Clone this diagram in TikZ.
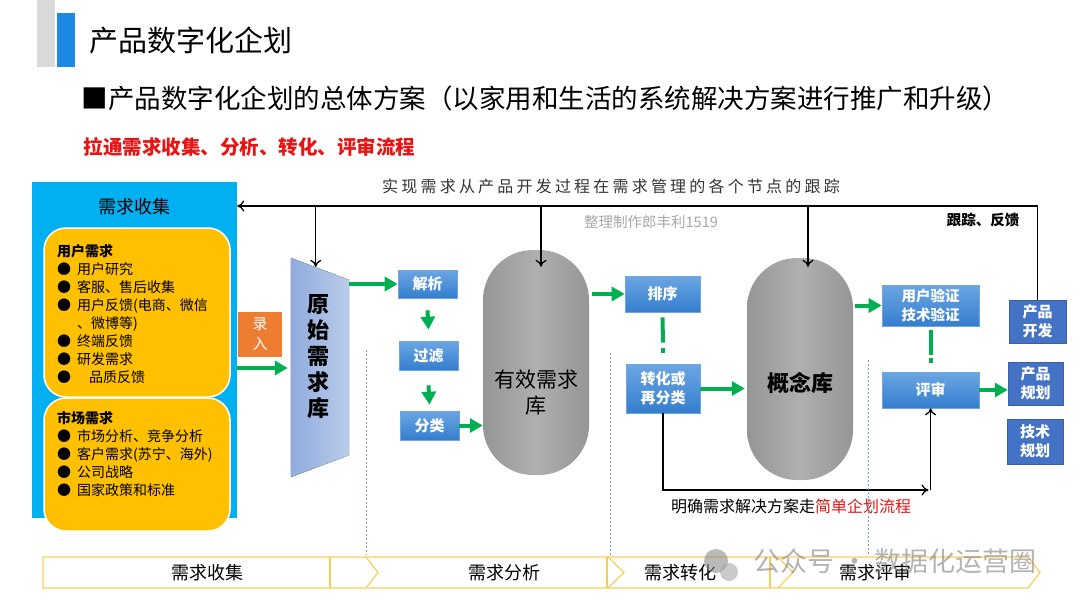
\documentclass[tikz,border=0pt]{standalone}
\usepackage{fontspec}
\setmainfont{Noto Sans CJK SC}
\usetikzlibrary{arrows.meta, calc, positioning, shapes}
\definecolor{titlegrey}{RGB}{217,217,217}
\definecolor{titleblue}{RGB}{30,136,229}
\definecolor{titlered}{RGB}{230,20,20}
\definecolor{collectblue}{RGB}{0,176,240}
\definecolor{needyellow}{RGB}{255,192,0}
\definecolor{inputorange}{RGB}{237,125,49}
\definecolor{flowgreen}{RGB}{0,176,80}
\definecolor{boxtop}{RGB}{108,166,226}
\definecolor{boxbot}{RGB}{52,126,206}
\definecolor{rightblue}{RGB}{68,114,196}
\definecolor{rawleft}{RGB}{143,170,220}
\definecolor{rawright}{RGB}{186,204,234}
\definecolor{capdark}{RGB}{150,150,150}
\definecolor{caplight}{RGB}{175,175,175}
\definecolor{sepblue}{RGB}{127,156,192}
\definecolor{bandyellow}{RGB}{245,207,90}

\begin{document}
\begin{tikzpicture}[x=1pt, y=-1pt,
    stepbox/.style={top color=boxtop, bottom color=boxbot, draw=boxbot!70!white, line width=0.6pt,
        text=white, font=\fontsize{15}{19}\selectfont\bfseries, align=center, inner sep=0pt},
    planbox/.style={fill=rightblue, draw=rightblue!85!black, line width=0.5pt, text=white,
        font=\fontsize{15}{19}\selectfont\bfseries, align=center, inner sep=0pt},
    needbox/.style={fill=needyellow, draw=white, line width=1.5pt, rounded corners=22pt,
        minimum width=186pt, inner sep=0pt},
    needtext/.style={anchor=north west, align=left, inner sep=0pt, font=\fontsize{14}{18}\selectfont},
    store/.style={left color=capdark, right color=capdark, middle color=caplight,
        rounded corners=50pt, minimum width=106pt, inner sep=0pt},
    go/.style={draw=flowgreen, line width=4pt, -{Triangle[length=13pt, width=14pt]}},
    bang/.style={draw=flowgreen, line width=4pt},
    track/.style={draw=black, line width=1.3pt, -{To[length=7pt, width=11pt]}},
    stagesep/.style={draw=sepblue, line width=0.7pt, dash pattern=on 2pt off 2pt},
    stage/.style={draw=bandyellow, line width=1.2pt},
    stagename/.style={font=\fontsize{18}{20}\selectfont},
  ]
  \useasboundingbox (0,0) rectangle (1080,608);

  % heading
  \fill[titlegrey] (37,0) rectangle (55,67);
  \fill[titleblue] (57,13) rectangle (75,67);
  \node[anchor=west, font=\fontsize{29}{32}\selectfont] (title) at (86,40) {产品数字化企划};
  \node[anchor=west, font=\fontsize{26.5}{30}\selectfont] (plan) at (78,98)
    {■产品数字化企划的总体方案（以家用和生活的系统解决方案进行推广和升级）};
  \node[anchor=west, text=titlered, font=\fontsize{19.5}{22}\selectfont\bfseries] (scope) at (80,147)
    {拉通需求收集、分析、转化、评审流程};
  \node[font=\fontsize{16}{18}\selectfont\addfontfeatures{LetterSpace=20}, text=black!80] (trackline) at (611,186)
    {实现需求从产品开发过程在需求管理的各个节点的跟踪};
  \node[text=black!35, font=\fontsize{14.5}{16}\selectfont] (maker) at (651,222) {整理制作郎丰利1519};
  \node[font=\fontsize{14.5}{16}\selectfont\bfseries] (tracknote) at (983,220) {跟踪、反馈};

  % collection
  \node[fill=collectblue, minimum width=205pt, minimum height=336pt, inner sep=0pt] (collect) at (134.5,350) {};
  \node[below=13pt of collect.north, font=\fontsize{18}{20}\selectfont] (collectname) {需求收集};
  \node[needbox, minimum height=169pt] (user) at (137,312.5) {};
  \node[needtext] (usertext) at (57,244) {\textbf{用户需求}\\
    ●\hspace{6pt}用户研究\\
    ●\hspace{6pt}客服、售后收集\\
    ●\hspace{6pt}用户反馈(电商、微信\\
    \phantom{●}\hspace{6pt}、微博等)\\
    ●\hspace{6pt}终端反馈\\
    ●\hspace{6pt}研发需求\\
    ●\hspace{18pt}品质反馈};
  \node[needbox, minimum height=133pt] (market) at (137,464.5) {};
  \node[needtext] (markettext) at (57,411) {\textbf{市场需求}\\
    ●\hspace{6pt}市场分析、竞争分析\\
    ●\hspace{6pt}客户需求(苏宁、海外)\\
    ●\hspace{6pt}公司战略\\
    ●\hspace{6pt}国家政策和标准};
  \node[fill=inputorange, minimum width=44pt, minimum height=45pt, text=white, inner sep=0pt,
    font=\fontsize{15}{20}\selectfont, align=center] (input) at (260,334.5) {录\\入};

  % raw pool
  \node[minimum width=58pt, minimum height=219pt, inner sep=0pt] (raw) at (320,367.5) {};
  \fill[left color=rawleft, right color=rawright] (raw.north west) -- ($(raw.north east)+(0,22)$)
    -- ($(raw.south east)+(0,-22)$) -- (raw.south west) -- cycle;
  \node[font=\fontsize{22}{26}\selectfont\bfseries, align=center] (rawname) at (318,357) {原\\始\\需\\求\\库};
  \coordinate (rawtop) at ($(raw.north west)+(25,9)$);
  \coordinate (feed) at ($(collect.east)+(0,18)$);

  % analysis
  \node[stepbox, minimum width=59pt, minimum height=28pt] (jiexi) at (427.5,284) {解析};
  \node[stepbox, minimum width=59pt, minimum height=29pt] (guolv) at (428.5,355.5) {过滤};
  \node[stepbox, minimum width=59pt, minimum height=29pt] (fenlei) at (429.5,425.5) {分类};
  \node[store, minimum height=225pt] (youxiao) at (536,362.5) {};
  \node[font=\fontsize{21}{26}\selectfont, align=center] (youxiaoname) at (536,393) {有效需求\\库};
  \coordinate (youxiaotop) at ($(youxiao.north)+(5,17)$);

  % conversion
  \node[stepbox, minimum width=75pt, minimum height=36pt] (paixu) at (662.5,294) {排序};
  \node[stepbox, minimum width=74pt, minimum height=49pt] (zhuanhua) at (663,388.5) {转化或\\再分类};
  \node[store, minimum height=222pt] (gainian) at (800,369) {};
  \node[font=\fontsize{22}{26}\selectfont\bfseries] (gainianname) at (800,383) {概念库};
  \coordinate (gainiantop) at ($(gainian.north)+(8,9)$);

  % review
  \node[stepbox, minimum width=97pt, minimum height=41pt, font=\fontsize{14.5}{19}\selectfont\bfseries] (verify) at (930.5,305.5) {用户验证\\技术验证};
  \node[stepbox, minimum width=97pt, minimum height=36pt] (review) at (930.5,390) {评审};
  \node[planbox, minimum width=57pt, minimum height=43pt] (kaifa) at (1037.5,321.5) {产品\\开发};
  \node[planbox, minimum width=55pt, minimum height=43pt] (guihua) at (1035.5,383.5) {产品\\规划};
  \node[planbox, minimum width=56pt, minimum height=45pt] (jishu) at (1035,441.5) {技术\\规划};
  \node[font=\fontsize{16}{18}\selectfont] (simplenote) at (791,506) {明确需求解决方案走\textcolor{titlered}{简单企划流程}};

  % green flow
  \draw[go] (feed) -- ($(feed -| raw.west)+(-3,0)$);
  \draw[go] (raw.east |- jiexi.west) -- (jiexi.west);
  \draw[go] ($(jiexi.south)+(0,12)$) -- ($(guolv.north)+(0,-11)$);
  \draw[go] ($(guolv.south)+(0,15)$) -- ($(fenlei.north)+(0,-6)$);
  \draw[go] (fenlei.east) -- (youxiao.west |- fenlei.east);
  \draw[go] ($(youxiao.east |- paixu.west)+(3,0)$) -- (paixu.west);
  \draw[go] (zhuanhua.east) -- ($(gainian.west |- zhuanhua.east)+(-2,0)$);
  \draw[go] ($(gainian.east |- verify.west)+(2,0)$) -- (verify.west);
  \draw[go] (review.east) -- (guihua.west |- review.east);
  \draw[bang] ($(paixu.south)+(0,5)$) -- ($(zhuanhua.north)+(0,-21)$);
  \draw[bang] ($(zhuanhua.north)+(0,-16)$) -- ($(zhuanhua.north)+(0,-11)$);
  \draw[bang] ($(verify.south)+(0,4)$) -- ($(review.north)+(0,-17)$);
  \draw[bang] ($(review.north)+(0,-14)$) -- ($(review.north)+(0,-9)$);

  % tracking
  \coordinate (topline) at (0,206);
  \coordinate (lowline) at (0,490);
  \draw[track] (kaifa.north) -- (kaifa.north |- topline) -- (collect.east |- topline);
  \draw[track] (rawtop |- topline) -- (rawtop);
  \draw[track] (youxiaotop |- topline) -- (youxiaotop);
  \draw[track] (gainiantop |- topline) -- (gainiantop);
  \draw[track] (zhuanhua.south) |- ($(review.south |- lowline)+(-2,0)$);
  \draw[track] (review.south |- lowline) -- (review.south);

  % stages
  \draw[stagesep] (366,350) -- (366,555);
  \draw[stagesep] (610,353) -- (610,555);
  \draw[stagesep] (868,360) -- (868,555);
  \draw[stage] (43,557) -- (1028,557) -- (1040,572.5) -- (1028,588) -- (43,588) -- cycle;
  \foreach \x in {330,607,770} \draw[stage] (\x,557) -- (\x,588);
  \foreach \x/\t in {366/12,608/16,778/15} \draw[stage] (\x,557) -- (\x+\t,572.5) -- (\x,588);
  \node[stagename] (s1) at (207,573) {需求收集};
  \node[stagename] (s2) at (504,573) {需求分析};
  \node[stagename] (s3) at (680,573) {需求转化};
  \node[stagename] (s4) at (875,573) {需求评审};

  % watermark
  \fill[black!45, opacity=0.6] (716,561) circle (12pt);
  \fill[black!35, opacity=0.6] (729,572) circle (9pt);
  \node[text=black!50, opacity=0.6, font=\fontsize{27}{30}\selectfont] (mark) at (895,561) {公众号 · 数据化运营圈};
\end{tikzpicture}
\end{document}
